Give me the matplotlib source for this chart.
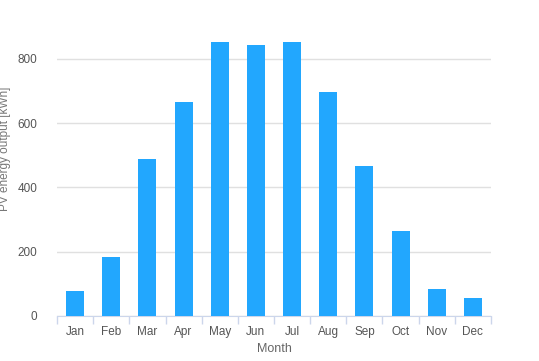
import numpy as np
import matplotlib
matplotlib.use('Agg')
import matplotlib.pyplot as plt

plt.rcParams['font.family'] = ['Liberation Sans', 'DejaVu Sans']

months = ['Jan', 'Feb', 'Mar', 'Apr', 'May', 'Jun', 'Jul', 'Aug', 'Sep', 'Oct', 'Nov', 'Dec']
output_kwh = [78, 183, 487, 667, 852, 843, 852, 697, 468, 264, 84, 56]
yticks = [0, 200, 400, 600, 800]

fig = plt.figure(figsize=(5.39, 3.61), dpi=100)
W, H = 539, 361
ax = fig.add_axes([57 / W, (H - 316) / H, (491 - 57) / W, (316 - 26.7) / H])

x = np.arange(len(months))
ax.bar(x, output_kwh, width=0.5, color='#22a7fe', zorder=3)

ax.set_xlim(-0.5, 11.5)
ax.set_ylim(0, 900)
ax.set_yticks(yticks)
ax.yaxis.grid(True, color='#e0e0e0', linewidth=1, zorder=0)
ax.tick_params(axis='y', length=0, pad=14, labelsize=8.5, labelcolor='#555555')

ax.set_xticks(x)
ax.set_xticklabels(months)
ax.set_xticks(np.arange(-0.5, 12, 1), minor=True)
ax.tick_params(axis='x', which='major', length=0, pad=7, labelsize=8.5, labelcolor='#555555')
ax.tick_params(axis='x', which='minor', length=6, color='#ccd6eb', width=1)

for s in ['top', 'right', 'left']:
    ax.spines[s].set_visible(False)
ax.spines['bottom'].set_color('#ccd6eb')

ax.set_xlabel('Month', fontsize=9, color='#666666', labelpad=4)
ax.set_ylabel('PV energy output [kWh]', fontsize=8.5, color='#777777')
ax.yaxis.set_label_coords((11 - 57) / 434, 0.578)

fig.savefig('out.png', dpi=100)
